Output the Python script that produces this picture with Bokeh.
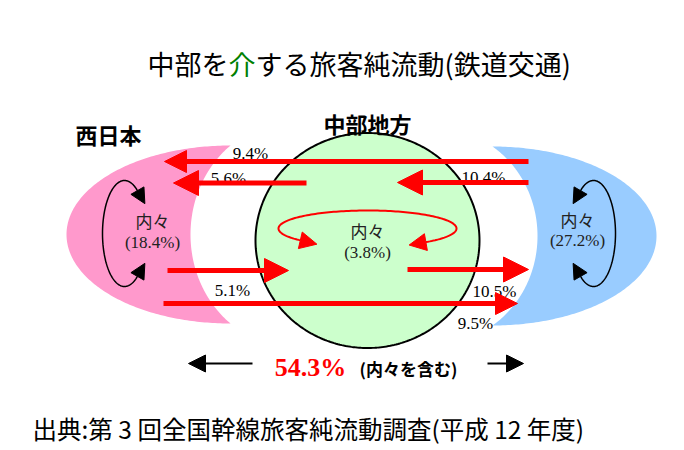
import numpy as np
from bokeh.plotting import figure
from bokeh.models import Range1d, Arrow, NormalHead
from bokeh.core.properties import value
from bokeh.embed import file_html
from bokeh.resources import INLINE

# ---------------- data ----------------
title_parts = ["中部を", "介", "する旅客純流動(鉄道交通)"]
region_names = ["西日本", "中部地方"]
internal_word = "内々"
internal_values = [18.4, 3.8, 27.2]          # 西日本, 中部地方, 右側地域
flow_values = [9.4, 5.6, 10.4, 5.1, 10.5, 9.5]
total_value = 54.3
total_note = "(内々を含む)"
source_text = "出典:第 3 回全国幹線旅客純流動調査(平成 12 年度)"

# ---------------- layout / style ----------------
W, H = 684, 450
RED, PINK, BLUE, GREEN = "#FF0000", "#FF99CC", "#99CCFF", "#CCFFCC"
JP = value("Noto Sans CJK JP")
SERIF = value("Liberation Serif")

p = figure(width=W, height=H, x_range=Range1d(0, W), y_range=Range1d(H, 0),
           output_backend="svg", toolbar_location=None, min_border=0,
           x_axis_location=None, y_axis_location=None)
p.grid.visible = False
p.outline_line_color = None
p.background_fill_color = "white"
p.border_fill_color = "white"


def crescent(cx_out, cy, rx_out, ry_out, depth_x, rx_in, side):
    # side = -1 : bulges to the left, +1 : bulges to the right
    t = np.radians(np.linspace(-90, -90 + side * 180, 200))
    xo = cx_out + rx_out * np.cos(t)
    yo = cy + ry_out * np.sin(t)
    cx_in = depth_x - side * rx_in
    cosp = abs(cx_out - cx_in) / rx_in
    phi0 = np.arccos(cosp)
    ry_in = ry_out / np.sin(phi0)
    if side < 0:
        ph = np.linspace(np.pi - phi0, np.pi + phi0, 200)
    else:
        ph = np.linspace(phi0, -phi0, 200)
    xi = cx_in + rx_in * np.cos(ph)
    yi = cy + ry_in * np.sin(ph)
    return np.concatenate([xo, xi]), np.concatenate([yo, yi])


xs, ys = crescent(230, 234, 164, 89, 190, 100, -1)
p.patch(xs, ys, fill_color=PINK, line_color=None)
xs, ys = crescent(492, 235.5, 164, 89.5, 537, 100, 1)
p.patch(xs, ys, fill_color=BLUE, line_color=None)

# central region
tt = np.radians(np.linspace(0, 360, 360))
p.patch(367 + 112 * np.cos(tt), 240 + 107.5 * np.sin(tt),
        fill_color=GREEN, line_color="black", line_width=2)

# flow labels (under the arrows)
flow_lx = [250, 228, 483, 232, 494, 475]
flow_ly = [153, 178, 177, 290, 291, 323]
p.text(x=flow_lx, y=flow_ly, text=[f"{v}%" for v in flow_values],
       text_font=SERIF, text_font_size="17px", text_color="black",
       text_align="center", text_baseline="middle")


def arc_arrow(cx, cy, rx, ry, t0, t1, color, lw, head):
    t = np.radians(np.linspace(t0, t1, 160))
    p.line(cx + rx * np.cos(t), cy + ry * np.sin(t), line_color=color, line_width=lw)
    d = np.sign(t1 - t0)
    for ta, s in ((t[0], -d), (t[-1], d)):
        ux, uy = s * (-rx * np.sin(ta)), s * (ry * np.cos(ta))
        n = np.hypot(ux, uy)
        ux, uy = ux / n, uy / n
        ex, ey = cx + rx * np.cos(ta), cy + ry * np.sin(ta)
        p.add_layout(Arrow(end=NormalHead(size=head, fill_color=color, line_color=color),
                           x_start=ex, y_start=ey, x_end=ex + ux * head, y_end=ey + uy * head,
                           line_alpha=0))


arc_arrow(124, 233, 22, 53, -54, -306, "black", 1.5, 15)
arc_arrow(593, 233, 22, 53, -126, 126, "black", 1.5, 15)
arc_arrow(367, 228, 89, 18, 49, -221, RED, 2, 17)

# internal texts
in_x = [152, 367, 577]
in_y1 = [220, 230, 219]
in_y2 = [242, 252, 240]
p.text(x=in_x, y=in_y1, text=[internal_word] * 3, text_font=JP, text_font_size="17px",
       text_color="#222222", text_align="center", text_baseline="middle")
p.text(x=in_x, y=in_y2, text=[f"({v}%)" for v in internal_values], text_font=SERIF,
       text_font_size="17px", text_color="#222222", text_align="center", text_baseline="middle")

# region names
p.text(x=[75], y=[133], text=[region_names[0]], text_font=JP, text_font_size="22px",
       text_font_style="bold", text_align="left", text_baseline="middle")
p.text(x=[367], y=[122], text=[region_names[1]], text_font=JP, text_font_size="22px",
       text_font_style="bold", text_align="center", text_baseline="middle")

# red flow arrows
flow_tail = [528, 306, 528, 167, 407, 163]
flow_tip = [164, 173, 397, 288, 528, 517]
flow_y = [161, 182.5, 182, 270, 269, 303]
flow_head = [22, 25, 25, 24, 25, 22]
for x0, x1, yv, hs in zip(flow_tail, flow_tip, flow_y, flow_head):
    p.add_layout(Arrow(end=NormalHead(size=hs, fill_color=RED, line_color=RED),
                       x_start=x0, y_start=yv, x_end=x1, y_end=yv,
                       line_color=RED, line_width=5))

# total
p.add_layout(Arrow(end=NormalHead(size=17, fill_color="black", line_color="black"),
                   x_start=252, y_start=363, x_end=188, y_end=363, line_color="black", line_width=2))
p.add_layout(Arrow(end=NormalHead(size=17, fill_color="black", line_color="black"),
                   x_start=487, y_start=363, x_end=523, y_end=363, line_color="black", line_width=2))
p.text(x=[310], y=[367], text=[f"{total_value}%"], text_font=SERIF, text_font_size="26px",
       text_font_style="bold", text_color=RED, text_align="center", text_baseline="middle")
p.text(x=[408], y=[368], text=[total_note], text_font=JP, text_font_size="17px",
       text_font_style="bold", text_color="black", text_align="center", text_baseline="middle")

# title (three pieces, middle one green)
TS = 27
t_start = 147
p.text(x=[t_start], y=[63], text=[title_parts[0]], text_font=JP, text_font_size=f"{TS}px",
       text_color="black", text_align="left", text_baseline="middle")
p.text(x=[t_start + 3 * TS], y=[63], text=[title_parts[1]], text_font=JP, text_font_size=f"{TS}px",
       text_color="#008000", text_align="left", text_baseline="middle")
p.text(x=[t_start + 4 * TS], y=[63], text=[title_parts[2]], text_font=JP, text_font_size=f"{TS}px",
       text_color="black", text_align="left", text_baseline="middle")

# source
p.text(x=[32], y=[428], text=[source_text], text_font=JP, text_font_size="24.5px",
       text_color="black", text_align="left", text_baseline="middle")

open("out.html", "w").write(file_html(p, INLINE))
